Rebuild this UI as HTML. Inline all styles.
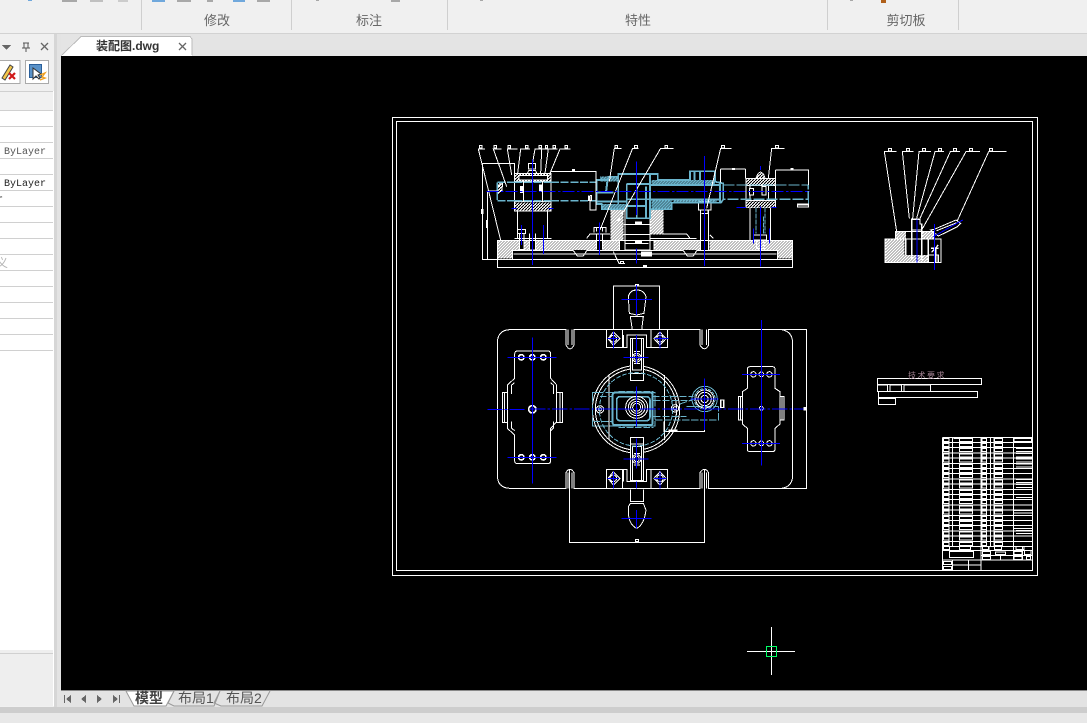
<!DOCTYPE html>
<html><head><meta charset="utf-8"><style>
html,body{margin:0;padding:0;background:#e3e3e3}
#r{position:relative;width:1087px;height:723px;overflow:hidden;font-family:"Liberation Sans","Noto Sans CJK SC",sans-serif}
svg{position:absolute;left:0;top:0}
</style></head><body><div id="r">
<svg width="1087" height="723" viewBox="0 0 1087 723" xmlns="http://www.w3.org/2000/svg" shape-rendering="crispEdges">
<defs>
<pattern id="h" patternUnits="userSpaceOnUse" width="9" height="9"><path d="M-2,11 L11,-2 M-2,2 L2,-2 M7,11 L11,7" stroke="#fff" stroke-width="4.500"/></pattern>
<pattern id="hb" patternUnits="userSpaceOnUse" width="9" height="9"><rect width="9" height="9" fill="#fff"/><path d="M-1,10 L10,-1" stroke="#000" stroke-width="3"/></pattern>
<pattern id="hc" patternUnits="userSpaceOnUse" width="9" height="9"><path d="M-2,11 L11,-2 M-2,2 L2,-2 M7,11 L11,7" stroke="#6ab4cc" stroke-width="4.500"/></pattern>
<g id="row" fill="none" stroke="#fff" stroke-width="3">
<path d="M217,15.6 H487 M237,0 V15.6 M247,0 V15.6 M333,0 V15.6 M350,0 V15.6 M362,0 V15.6 M372,0 V15.6 M430,0 V15.6"/>
<rect x="220" y="3" width="17" height="9"/><rect x="268" y="3" width="40" height="9"/><rect x="336" y="3" width="14" height="9"/><rect x="373" y="3" width="25" height="9"/>
</g>
</defs>

<!-- chrome -->
<rect width="1087" height="33" fill="#f0f0f0"/>
<rect y="33" width="1087" height="1" fill="#d2d2d2"/>
<rect y="34" width="1087" height="22" fill="#e4e4e4"/>
<g fill="#cfcfcf"><rect x="141" width="1" height="30"/><rect x="291" width="1" height="30"/><rect x="447" width="1" height="30"/><rect x="827" width="1" height="30"/><rect x="958" width="1" height="30"/></g>
<g fill="#a8a8a8"><rect x="62" width="15" height="2"/><rect x="90" width="13" height="2" fill="#c0c0c0"/><rect x="118" width="10" height="2" fill="#ccc"/><rect x="177" width="14" height="2"/><rect x="207" width="6" height="2"/><rect x="257" width="13" height="2"/><rect x="391" width="9" height="2"/><rect x="316" width="3" height="1"/><rect x="480" width="3" height="1"/><rect x="850" width="3" height="1"/></g>
<g fill="#70a8dc"><rect x="28" width="4" height="1"/><rect x="152" width="13" height="2"/><rect x="233" width="12" height="2"/></g>
<rect x="881" width="5" height="3" fill="#b0601a"/>
<g font-size="13" fill="#666" text-anchor="middle" shape-rendering="auto" style="font-family:'Liberation Sans','Noto Sans CJK SC',sans-serif">
<text x="217" y="25">修改</text><text x="369" y="25">标注</text><text x="638" y="25">特性</text><text x="906" y="25">剪切板</text>
</g>

<!-- left panel -->
<rect x="0" y="34" width="58" height="673" fill="#f0f0f0"/>
<rect x="0" y="91" width="54" height="559" fill="#fff"/>
<rect x="0" y="91" width="53" height="19" fill="#f1f1f1"/>
<rect x="0" y="650" width="54" height="56" fill="#eee"/>
<rect x="53" y="91" width="1" height="615" fill="#fff"/>
<rect x="54" y="34" width="3" height="673" fill="#d6d6d6"/>
<rect x="57" y="34" width="4" height="673" fill="#e3e3e3"/>
<g fill="#d0d0d0"><rect y="91" width="53" height="1"/><rect y="110" width="53" height="1"/><rect y="126" width="53" height="1"/><rect y="142" width="53" height="1"/><rect y="158" width="53" height="1"/><rect y="174" width="53" height="1"/><rect y="190" width="53" height="1"/><rect y="206" width="53" height="1"/><rect y="222" width="53" height="1"/><rect y="238" width="53" height="1"/><rect y="254" width="53" height="1"/><rect y="270" width="53" height="1"/><rect y="286" width="53" height="1"/><rect y="302" width="53" height="1"/><rect y="318" width="53" height="1"/><rect y="334" width="53" height="1"/><rect y="350" width="53" height="1"/><rect y="653" width="53" height="1"/></g>
<path d="M2,45 H11 L6.500,50 Z" fill="#666"/>
<path d="M23,43 H29 M24,43 V48 H28 V43 M22,48 H30 M26,48 V52" stroke="#555" fill="none" shape-rendering="auto"/>
<path d="M41,43 L48,50 M48,43 L41,50" stroke="#666" stroke-width="1.300" shape-rendering="auto"/>
<rect x="-1" y="60.500" width="21" height="23" fill="#fff" stroke="#aaa"/>
<rect x="25.500" y="60.500" width="23" height="23" fill="#fff" stroke="#aaa"/>
<path d="M2,78 L10,65 L13,67 L5,80 Z" fill="#f3c64a" stroke="#444" shape-rendering="auto"/>
<path d="M9,73 L15,79 M15,73 L9,79" stroke="#d01818" stroke-width="2.200" shape-rendering="auto"/>
<rect x="29.500" y="64.500" width="12" height="13" fill="#5a92c8" stroke="#2a5f9a"/>
<path d="M33,68 L33,79 L36,76 L39,79 L40,78 L38,75 L41,74 Z" fill="#fff" stroke="#333" shape-rendering="auto"/>
<path d="M40,75 L45,73 L42,77 L45,78 L40,80" fill="none" stroke="#f0a020" stroke-width="1.400" shape-rendering="auto"/>
<g font-size="10" style="font-family:'Liberation Mono',monospace" shape-rendering="auto">
<text x="4" y="154" fill="#555">ByLayer</text>
<text x="4" y="186" fill="#222">ByLayer</text>
<text x="-3" y="202" fill="#222">r</text>
</g>
<text x="-4" y="267" font-size="12" fill="#b5b5b5" shape-rendering="auto">义</text>

<!-- canvas -->
<rect x="61" y="56" width="1026" height="634" fill="#000"/>
<rect x="61" y="690" width="1026" height="1" fill="#888"/>
<rect x="61" y="691" width="1026" height="16" fill="#e3e3e3"/>
<rect y="707" width="1087" height="6" fill="#cdcdcd"/>
<rect y="713" width="1087" height="10" fill="#e8e8e8"/>

<!-- doc tab -->
<path d="M61.500,55.500 L81,36.500 H190 L192,39 V55.500" fill="#fff" stroke="#bbb"/>
<rect x="62" y="55" width="130" height="1" fill="#fff"/>
<text x="96" y="50" font-size="12" font-weight="bold" fill="#333" shape-rendering="auto">装配图.dwg</text>
<path d="M179,43 L186,50 M186,43 L179,50" stroke="#666" stroke-width="1.300" shape-rendering="auto"/>

<!-- bottom tabs -->
<g fill="#666"><rect x="64" y="695" width="1" height="8"/><path d="M71,695 V703 L66,699 Z"/><path d="M86,695 V703 L81,699 Z"/><path d="M97,695 V703 L102,699 Z"/><path d="M113,695 V703 L118,699 Z"/><rect x="119" y="695" width="1" height="8"/></g>
<path d="M126,691 L134,706 H166 L174,691 Z" fill="#fff" stroke="#999" shape-rendering="auto"/>
<path d="M174,691 L168,703 L174,706 H214 L220,691 M220,691 L214,703 L221,706 H262 L270,691" fill="none" stroke="#999" shape-rendering="auto"/>
<g font-size="14" shape-rendering="auto">
<text x="135" y="703" font-weight="bold" fill="#444">模型</text>
<text x="178" y="703" fill="#555">布局1</text>
<text x="226" y="703" fill="#555">布局2</text>
</g>

<!-- frames -->
<rect x="392.500" y="117.500" width="645" height="458" fill="none" stroke="#fff"/>
<rect x="396.500" y="121.500" width="636" height="449" fill="none" stroke="#fff"/>

<!-- FRONT VIEW -->
<g transform="translate(470,130) scale(.33333)" fill="none" stroke="#fff" stroke-width="3">
 <!-- base hatch -->
 <path d="M84,333 H448 V360 H128 V386 H84 Z" fill="url(#h)" stroke="none"/>
 <path d="M552,333 H690 V360 H552 Z M718,333 H966 V386 H922 V360 H718 Z" fill="url(#h)" stroke="none"/>
 <rect x="422" y="238" width="38" height="92" fill="url(#h)" stroke="none"/>
 <rect x="542" y="238" width="38" height="75" fill="url(#h)" stroke="none"/>
 <rect x="148" y="310" width="14" height="50" fill="#000" stroke="none"/>
 <rect x="180" y="310" width="16" height="50" fill="#000" stroke="none"/>
 <rect x="380" y="312" width="17" height="48" fill="#000" stroke="none"/>
 <rect x="692" y="325" width="24" height="36" fill="#000" stroke="none"/>
 <rect x="465" y="314" width="75" height="47" fill="#000" stroke="none"/>
 <path d="M82,331 H968 V412 H82 Z M82,388 H968 M128,388 V362 H310 L322,378 H340 L350,362 H640 L652,378 H670 L680,362 H922 V388"/>
 <path d="M130,372 H920 M350,325 L360,312 H420 M580,312 H650 L660,325 M540,325 H680 M730,325 L720,315"/>
 <path d="M465,240 V360 H540 V240 M460,283 H542 M460,314 H542 M465,340 H535 M448,331 V360 M552,331 V360"/>
 <!-- left bearing -->
 <rect x="133" y="130" width="110" height="113" fill="#000"/>
 <rect x="135" y="132" width="106" height="22" fill="url(#hb)" stroke="none"/>
 <rect x="135" y="217" width="106" height="25" fill="url(#hb)" stroke="none"/>
 <path d="M133,155 H243 M133,215 H243 M160,155 V215 M218,155 V215 M142,243 V325 M233,243 V325 M133,325 H245"/>
 <rect x="147" y="137" width="85" height="13" fill="#000"/>
 <rect x="152" y="170" width="8" height="18" fill="#fff"/><rect x="208" y="165" width="9" height="20" fill="#fff"/>
 <rect x="176" y="101" width="21" height="16" fill="#000"/>
 <path d="M172,130 L176,122 H197 L200,130"/>
 <path d="M143,298 H167 V310 H143 Z M148,310 V358 H162 V310 M178,310 V360 H196 V310"/>
 <!-- center bolt -->
 <path d="M372,308 V292 H408 V308 M365,312 H412 M380,312 V358 M397,312 V358 M380,292 V305 M397,292 V305"/>
 <rect x="90" y="158" width="6" height="26" fill="#fff"/>
 <path d="M82,180 Q84,160 98,156 L96,180 L84,190 Z" fill="url(#hb)"/>
 <!-- right column -->
 <path d="M692,240 V360 M716,240 V360 M694,250 H714 V240"/>
 <rect x="686" y="215" width="37" height="25" fill="#000"/>
 <!-- right bearing -->
 <rect x="828" y="145" width="89" height="88" fill="#000"/>
 <rect x="830" y="147" width="85" height="18" fill="url(#hb)" stroke="none"/>
 <rect x="830" y="214" width="85" height="18" fill="url(#hb)" stroke="none"/>
 <path d="M828,166 H917 M828,212 H917 M840,233 V330 M902,233 V330 M840,166 V212 M895,166 V212"/>
 <path d="M862,135 Q871,118 882,135 L885,145 H858 Z" fill="url(#hb)"/>
 <rect x="838" y="175" width="12" height="20" fill="#000"/><rect x="876" y="170" width="12" height="25" fill="#000"/>
 <path d="M850,315 H890 V330 H850 Z M860,330 V355 H882 V330"/>
 <!-- cyan body -->
 <g stroke="#6ab4cc">
  <rect x="545" y="212" width="60" height="25" fill="url(#hc)" stroke="none"/>
  <rect x="395" y="222" width="75" height="16" fill="url(#hc)" stroke="none"/>
  <rect x="545" y="150" width="190" height="14" fill="url(#hc)" stroke="none"/>
  <rect x="610" y="208" width="130" height="10" fill="url(#hc)" stroke="none"/>
  <rect x="390" y="140" width="55" height="14" fill="url(#hc)" stroke="none"/>
  <path stroke-width="5" d="M380,150 H415 V140 H445 V132 H563 V150 H660 V124 H735 V155 L760,160 V208 L753,218 H605 V238 H540 V265 H470 V238 H395 V222 H380 Z"/>
  <path stroke-width="5" d="M540,132 V238 M470,162 V238 M445,140 V222 M470,162 H540 M470,208 H540 M470,228 H530 M500,170 V262 M528,170 V262" />
  <path d="M540,165 H752 M540,208 H752 M380,187 H430 M380,215 H470 M412,155 L408,187 M750,155 V218 M674,124 V150 M690,124 V150" stroke-width="6"/>
  <path stroke-width="4" d="M82,157 H133 M243,157 H380 M82,212 H133 M243,212 H380 M82,157 V212 M133,157 H243 M133,212 H243" stroke-dasharray="24 5"/>
  <path stroke-width="4" d="M760,165 H1015 V208 H760" stroke-dasharray="34 5"/>
  <path d="M1015,208 V228 H983 M858,233 V310 M885,233 V310 M880,260 V310" stroke-dasharray="14 4"/>
 </g>
 <rect x="983" y="222" width="32" height="9" fill="#000"/>
 <!-- dims and leaders -->
 <path d="M243,124 H378 V240 H360 V197 M752,117 H827 M752,117 V158 M827,117 V145 M917,120 H1015 V165 M917,120 V145 M37,100 H133 V130 M37,100 V388 H82 M52,183 V388 M52,183 H82 M360,197 H365 V212 H355 V197"/>
 <path d="M45,57 H25 L92,331 M95,57 H70 L110,170 M143,57 H112 L125,135 M180,57 H152 L143,130 M220,57 H195 L187,103 M240,57 H215 L212,130 M262,57 H235 L225,130 M302,57 H270 L240,130 M455,55 H433 L418,155 M505,55 H488 L390,300 M610,55 H572 L440,280 M785,55 H752 L710,235 M944,55 H905 L895,145 M430,365 L447,400 H465"/>
 <g fill="#000">
  <rect x="29" y="46" width="7" height="8"/><rect x="72" y="46" width="7" height="8"/><rect x="114" y="46" width="7" height="8"/><rect x="167" y="46" width="7" height="8"/><rect x="207" y="46" width="8" height="8"/><rect x="226" y="46" width="7" height="8"/><rect x="249" y="46" width="8" height="8"/><rect x="285" y="46" width="8" height="8"/><rect x="435" y="46" width="8" height="8"/><rect x="494" y="46" width="8" height="8"/><rect x="585" y="46" width="8" height="8"/><rect x="755" y="46" width="9" height="8"/><rect x="917" y="46" width="9" height="8"/><rect x="451" y="394" width="10" height="7"/>
 </g>
 <g fill="#fff" stroke="none">
  <rect x="33" y="237" width="8" height="15"/><rect x="48" y="270" width="6" height="24"/><rect x="306" y="117" width="9" height="6"/><rect x="786" y="114" width="9" height="6"/><rect x="961" y="114" width="10" height="6"/><rect x="519" y="405" width="12" height="6"/><rect x="513" y="365" width="33" height="14"/><rect x="495" y="275" width="21" height="8"/><rect x="495" y="332" width="21" height="8"/><rect x="354" y="198" width="8" height="15"/>
  <rect x="983" y="223" width="32" height="3"/>
 </g>
 <!-- blue -->
 <g stroke="#00f">
  <path d="M50,184 H1020" stroke-dasharray="36 7 7 7"/>
  <path d="M187,88 V405 M499,95 V255 M499,355 V400 M703,78 V408 M871,108 V120 M871,230 V410 M388,278 V375 M154,285 V345 M220,285 V372 M850,295 V340 M898,295 V340"/>
  <path d="M125,235 H140 M235,235 H250 M800,232 H828 M905,232 H920"/>
 </g>
</g>

<!-- SIDE VIEW -->
<g transform="translate(870,130) scale(.33333)" fill="none" stroke="#fff" stroke-width="3">
 <path d="M47,329 H103 V375 H175 V396 H47 Z" fill="url(#h)" stroke="none"/>
 <rect x="78" y="306" width="30" height="20" fill="url(#h)" stroke="none"/>
 <rect x="155" y="306" width="34" height="20" fill="url(#h)" stroke="none"/>
 <rect x="45" y="327" width="168" height="70"/>
 <rect x="77" y="305" width="113" height="22"/>
 <path d="M125,268 H150 V282 H155 V300 H125 Z M125,300 V390 M155,300 V390 M107,327 V375 M175,327 V396 M175,375 H205 V397 M183,355 H205 M185,367 L205,345 M197,355 V397" stroke-width="4"/>
 <path d="M182,300 L195,297 L258,270 L272,280 L262,290 L218,312 L205,318 Z M200,302 L260,278"/>
 <path d="M80,65 H43 L80,305 M130,65 H97 L118,265 M183,65 H147 L128,265 M222,65 H195 L140,265 M270,65 H241 L150,265 M330,65 H288 L155,300 M410,65 H356 L262,272"/>
 <g fill="#000"><rect x="55" y="56" width="9" height="7"/><rect x="109" y="56" width="9" height="7"/><rect x="158" y="56" width="9" height="7"/><rect x="205" y="56" width="9" height="7"/><rect x="250" y="56" width="9" height="7"/><rect x="299" y="56" width="9" height="7"/><rect x="358" y="56" width="9" height="7"/></g>
 <path d="M141,268 V398 M193,282 V420 M190,320 L278,270" stroke="#00f"/>
</g>

<!-- TOP VIEW -->
<g transform="translate(480,280) scale(.33333)" fill="none" stroke="#fff" stroke-width="3">
 <path d="M258,149 H92 Q52,149 52,190 V585 Q52,625 92,625 H258 V578 Q270,558 282,578 V625 H660 V578 Q673,558 686,578 V625 H980 V149 H686 V195 Q673,218 660,195 V149 H282 V195 Q270,218 258,195 Z"/>
 <path d="M905,149 Q938,155 938,190 V585 Q938,620 905,625"/>
 <path d="M264,149 V195 M276,149 V195 M666,149 V195 M680,149 V195 M264,625 V578 M276,625 V578 M666,625 V578 M680,625 V578"/>
 <!-- left pad -->
 <path d="M104,222 Q104,213 113,213 H203 Q212,213 212,222 V295 L230,315 V425 L212,445 V542 Q212,551 203,551 H113 Q104,551 104,542 V465 L82,445 V315 L104,295 Z"/>
 <path d="M95,342 V315 L104,308 M95,425 V445 L104,452 M220,342 V315 L212,308 M220,425 V445 L212,452"/>
 <path d="M82,338 H68 V427 H82 M74,338 V427 M230,338 H247 V427 H230 M240,338 V427"/>
 <g stroke-width="5" fill="#000"><circle cx="124" cy="232" r="8"/><circle cx="157" cy="232" r="8"/><circle cx="190" cy="232" r="8"/><circle cx="124" cy="532" r="8"/><circle cx="157" cy="532" r="8"/><circle cx="190" cy="532" r="8"/><circle cx="157" cy="388" r="11"/></g>
 <!-- right pad -->
 <path d="M802,268 Q802,260 810,260 H877 Q885,260 885,268 V325 L900,335 V432 L885,445 V507 Q885,515 877,515 H810 Q802,515 802,507 V445 L787,432 V335 L802,325 Z"/>
 <path d="M787,350 H775 V420 H787 M781,350 V420 M900,350 H912 V420 H900 M906,350 V420"/>
 <g fill="#000"><circle cx="820" cy="283" r="8"/><circle cx="844" cy="283" r="7"/><circle cx="868" cy="283" r="8"/><circle cx="820" cy="490" r="8"/><circle cx="844" cy="490" r="7"/><circle cx="868" cy="490" r="8"/><circle cx="844" cy="385" r="6"/></g>
 <!-- top handle -->
 <path d="M400,149 V18 H539 V149"/>
 <rect x="466" y="14" width="10" height="4" fill="#fff"/>
 <path d="M445,50 Q450,30 470,30 Q492,30 498,50 L492,100 L470,105 L448,100 Z M451,110 H490 L485,149 H457 Z"/>
 <path d="M445,680 L451,670 H490 L498,690 Q492,735 470,745 Q448,735 445,700 Z M451,628 V665 H490 V628"/>
 <!-- clamps -->
 <path d="M379,149 H563 V203 H500 V165 H441 V203 H379 Z M427,149 V203 M513,149 V203 M431,165 V203"/>
 <path d="M379,568 H441 V605 H500 V568 H563 V625 H379 Z M427,568 V625 M513,568 V625 M431,568 V605"/>
 <g fill="#000"><path d="M400,156 L420,176 L400,196 L384,176 Z"/><path d="M540,156 L558,176 L540,196 L522,176 Z"/><path d="M400,575 L420,595 L400,615 L384,595 Z"/><path d="M540,575 L558,595 L540,615 L522,595 Z"/>
 <circle cx="400" cy="176" r="10"/><circle cx="540" cy="176" r="10"/><circle cx="400" cy="595" r="10"/><circle cx="540" cy="595" r="10"/></g>
 <!-- big circle -->
 <circle cx="468" cy="388" r="131"/><circle cx="468" cy="388" r="122"/>
 <!-- sliders -->
 <rect x="451" y="175" width="40" height="127" fill="#000"/>
 <rect x="451" y="472" width="40" height="130" fill="#000"/>
 <path d="M457,175 V270 H484 V175 M451,280 H491 M457,602 V500 H484 V602 M451,492 H491 M462,215 H480 M462,250 H480 M462,520 H480 M462,555 H480"/>
 <circle cx="470" cy="233" r="13" /><circle cx="470" cy="233" r="8"/><circle cx="470" cy="537" r="13"/><circle cx="470" cy="537" r="8"/>
 <path d="M387,285 V480 M553,285 V480 M552,425 V455 H674 V430"/>
 <rect x="566" y="448" width="27" height="7" fill="#fff" stroke="none"/>
 <circle cx="360" cy="388" r="11"/><circle cx="360" cy="388" r="5"/>
 <circle cx="585" cy="385" r="11"/><circle cx="585" cy="385" r="5"/>
 <g stroke="#6ab4cc">
  <circle cx="468" cy="388" r="110" stroke-dasharray="14 5"/>
  <path d="M337,338 H525 V438 H337 Z" stroke-dasharray="34 5"/>
  <path d="M360,350 H400 M340,425 H400 M415,334 H520 M415,442 H520" stroke-dasharray="20 5"/>
  <rect x="398" y="338" width="120" height="97" stroke-width="6" rx="6"/>
  <rect x="410" y="350" width="100" height="72" rx="10" stroke-width="5"/>
  <path d="M517,350 H640 M520,362 H635 M520,410 H620 M525,420 H715 V380 M620,380 L716,380 M600,372 L640,358" stroke-dasharray="22 5"/>
  <circle cx="674" cy="357" r="38"/><circle cx="674" cy="357" r="31" stroke-dasharray="10 3"/>
 </g>
 <g><circle cx="470" cy="382" r="33"/><circle cx="470" cy="382" r="25"/><circle cx="470" cy="382" r="18"/><circle cx="470" cy="382" r="12"/></g>
 <circle cx="674" cy="357" r="27"/><circle cx="674" cy="357" r="20"/><circle cx="674" cy="357" r="11"/>
 <rect x="720" y="358" width="13" height="26" fill="#fff" stroke="none"/><rect x="724" y="361" width="5" height="20" fill="#000" stroke="none"/>
 <rect x="971" y="381" width="9" height="10" fill="#fff" stroke="none"/>
 <path d="M268,570 V787 H674 V570"/>
 <rect x="466" y="778" width="9" height="7" fill="#000"/>
 <!-- blue -->
 <g stroke="#00f">
  <path d="M22,388 H140 M150,387 H970" stroke-dasharray="46 6 8 6"/>
  <path d="M157,172 V610 M844,120 V556 M82,232 H230 M82,532 H230 M786,283 H900 M786,490 H900"/>
  <path d="M470,15 V105 M424,58 H516 M470,690 V745 M425,715 H515 M674,295 V450 M632,357 H716"/>
  <path d="M470,165 V250 M470,320 V440 M470,475 V565 M470,605 V625" />
  <path d="M430,232 H505 M430,537 H505 M382,176 H416 M524,176 H565 M382,595 H416 M522,595 H560 M400,155 V205 M540,155 V205 M400,575 V625 M540,575 V625" />
 </g>
</g>

<!-- technical text & blocks -->
<g transform="translate(870,360) scale(.33333)" fill="none" stroke="#fff" stroke-width="3">
 <rect x="22" y="56" width="313" height="18"/>
 <rect x="22" y="75" width="30" height="20"/><rect x="60" y="75" width="34" height="20"/><rect x="102" y="75" width="80" height="20"/>
 <rect x="26" y="95" width="297" height="18"/>
 <rect x="25" y="115" width="52" height="19"/>
 <!-- title block -->
 <path d="M217,232 V630 M217,232 H487"/>
 <use href="#row" y="232"/><use href="#row" y="247.600"/><use href="#row" y="263.200"/><use href="#row" y="278.800"/><use href="#row" y="294.400"/><use href="#row" y="310"/><use href="#row" y="325.600"/><use href="#row" y="341.200"/><use href="#row" y="356.800"/><use href="#row" y="372.400"/><use href="#row" y="388"/><use href="#row" y="403.600"/><use href="#row" y="419.200"/><use href="#row" y="434.800"/><use href="#row" y="450.400"/><use href="#row" y="466"/><use href="#row" y="481.600"/><use href="#row" y="497.200"/><use href="#row" y="512.800"/><use href="#row" y="528.400"/><use href="#row" y="544"/>
 <path d="M432,236 H484 V244 H432 Z M438,265 H487 V275 H438 M438,281 H487 V291 H438 M438,297 H487 V306 H438 M438,312 H487 V321 H438 M438,358 H487 V367 H438 M438,373 H487 V382 H438 M438,404 H487 V413 H438 M432,451 H487 V459 H432 M432,497 H487 V505 H432 M438,512 H487 V521 H438 M250,236 H308"/>
 <path d="M217,571 H487 M217,600 H487 M333,558 V630 M357,558 V572 M430,558 V600 M458,558 V600 M247,600 V630 M295,600 V630 M247,615 H333 M362,572 V586 M335,586 H487 M392,586 V600"/>
 <rect x="238" y="574" width="73" height="19"/>
 <rect x="220" y="559" width="19" height="10"/><rect x="268" y="559" width="34" height="10"/><rect x="337" y="559" width="19" height="10"/><rect x="373" y="559" width="22" height="9"/><rect x="438" y="559" width="24" height="10"/>
 <rect x="337" y="574" width="25" height="9"/><rect x="376" y="576" width="31" height="7"/><rect x="432" y="574" width="24" height="10"/><rect x="463" y="572" width="20" height="11"/><rect x="337" y="589" width="25" height="9"/><rect x="432" y="589" width="24" height="9"/><rect x="469" y="589" width="13" height="9"/>
 <rect x="220" y="604" width="25" height="9"/><rect x="220" y="619" width="25" height="9"/>
</g>
<text x="908" y="378" font-size="8" fill="#a08090" letter-spacing="1.500" shape-rendering="auto" style="font-family:'Liberation Sans','Noto Sans CJK SC',sans-serif">技术要求</text>

<!-- crosshair -->
<path d="M747,651.500 H795 M771.500,627 V675" stroke="#fff"/>
<rect x="766.500" y="646.500" width="10" height="10" fill="none" stroke="#00ff66"/>
</svg>
</div></body></html>
